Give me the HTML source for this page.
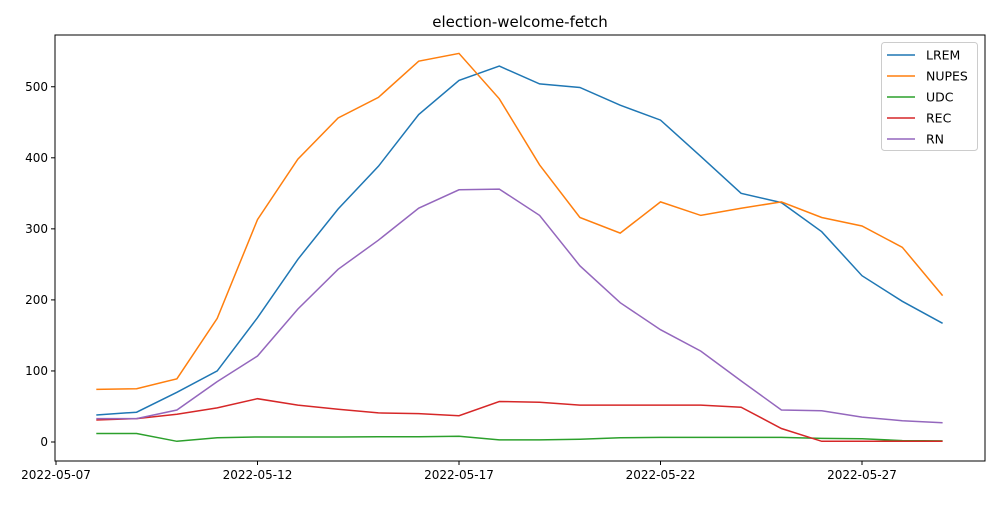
<!DOCTYPE html>
<html><head><meta charset="utf-8"><style>
body{margin:0;background:#fff;font-family:"Liberation Sans","DejaVu Sans",sans-serif}
svg text{font-family:"DejaVu Sans","Liberation Sans",sans-serif}
</style></head><body>
<svg id="chart" width="1000" height="500"></svg>
<script>
const dates=["2022-05-08","2022-05-09","2022-05-10","2022-05-11","2022-05-12","2022-05-13","2022-05-14","2022-05-15","2022-05-16","2022-05-17","2022-05-18","2022-05-19","2022-05-20","2022-05-21","2022-05-22","2022-05-23","2022-05-24","2022-05-25","2022-05-26","2022-05-27","2022-05-28","2022-05-29"];
const seriesNames=["LREM","NUPES","UDC","REC","RN"];
const lrem=[38,42,70,100,175,257,328,388,461,509,529,504,499,474,453,402,350,337,296,234,198,167];
const nupes=[74,75,89,174,313,398,456,485,536,547,483,390,316,294,338,319,329,338,316,304,274,206];
const udc=[12,12,1,6,7,7,7,7.5,7.5,8,3,3,4,6,6.5,6.5,6.5,6.5,5,4.5,2,1.5];
const rec=[31,33,39,48,61,52,46,41,40,37,57,56,52,52,52,52,49,19,1,1,1,1];
const rn=[33,33,45,85,121,187,243,284,329,355,356,319,248,196,158,128,86,45,44,35,30,27];
const yTicks=[0,100,200,300,400,500];
const xTickLabels=["2022-05-07","2022-05-12","2022-05-17","2022-05-22","2022-05-27"];
const colors=["#1f77b4","#ff7f0e","#2ca02c","#d62728","#9467bd"];
const allSeries=[lrem,nupes,udc,rec,rn];

const svg=document.getElementById('chart');
const NS="http://www.w3.org/2000/svg";
const L=55,R=985,T=35,B=461;
const day0=Date.parse("2022-05-07");
function xs(d){return 56+(Date.parse(d)-day0)/86400000*40.3;}
function ys(v){return 442-v*0.7105;}
function mk(tag,attrs,parent){const e=document.createElementNS(NS,tag);for(const k in attrs)e.setAttribute(k,attrs[k]);(parent||svg).appendChild(e);return e;}

const title=mk('text',{x:520,y:27,'text-anchor':'middle','font-size':15});
title.textContent="election-welcome-fetch";



yTicks.forEach(v=>{
  const y=ys(v);
  const t=mk('line',{x1:L-4,x2:L,y1:y,y2:y,stroke:'#000','stroke-width':1});
  
  
  const lb=mk('text',{x:L-7,y:y+4,'text-anchor':'end','font-size':12});
  lb.textContent=v;
  
  
});
xTickLabels.forEach(d=>{
  const x=xs(d);
  const t=mk('line',{x1:x,x2:x,y1:B,y2:B+4,stroke:'#000','stroke-width':1});
  
  
  const lb=mk('text',{x:x,y:B+18,'text-anchor':'middle','font-size':12});
  lb.textContent=d;
  
  
});

allSeries.forEach((s,i)=>{
  const pts=s.map((v,j)=>xs(dates[j]).toFixed(1)+','+ys(v).toFixed(1)).join(' ');
  const p=mk('polyline',{points:pts,fill:'none',stroke:colors[i],'stroke-width':1.5});
  
  
});

const frame=mk('rect',{x:L,y:T,width:R-L,height:B-T,fill:'none',stroke:'#000','stroke-width':1});



const lg=mk('g',{});


mk('rect',{x:881.5,y:42.5,width:96,height:108,rx:3,fill:'#fff',stroke:'#ccc'},lg);
seriesNames.forEach((n,i)=>{
  const y=55+i*21;
  const ln=mk('line',{x1:887,x2:915,y1:y,y2:y,stroke:colors[i],'stroke-width':1.5},lg);
  
  
  const tx=mk('text',{x:926,y:y+4.5,'font-size':12.5},lg);
  tx.textContent=n;
  
  
});
</script>
</body></html>
